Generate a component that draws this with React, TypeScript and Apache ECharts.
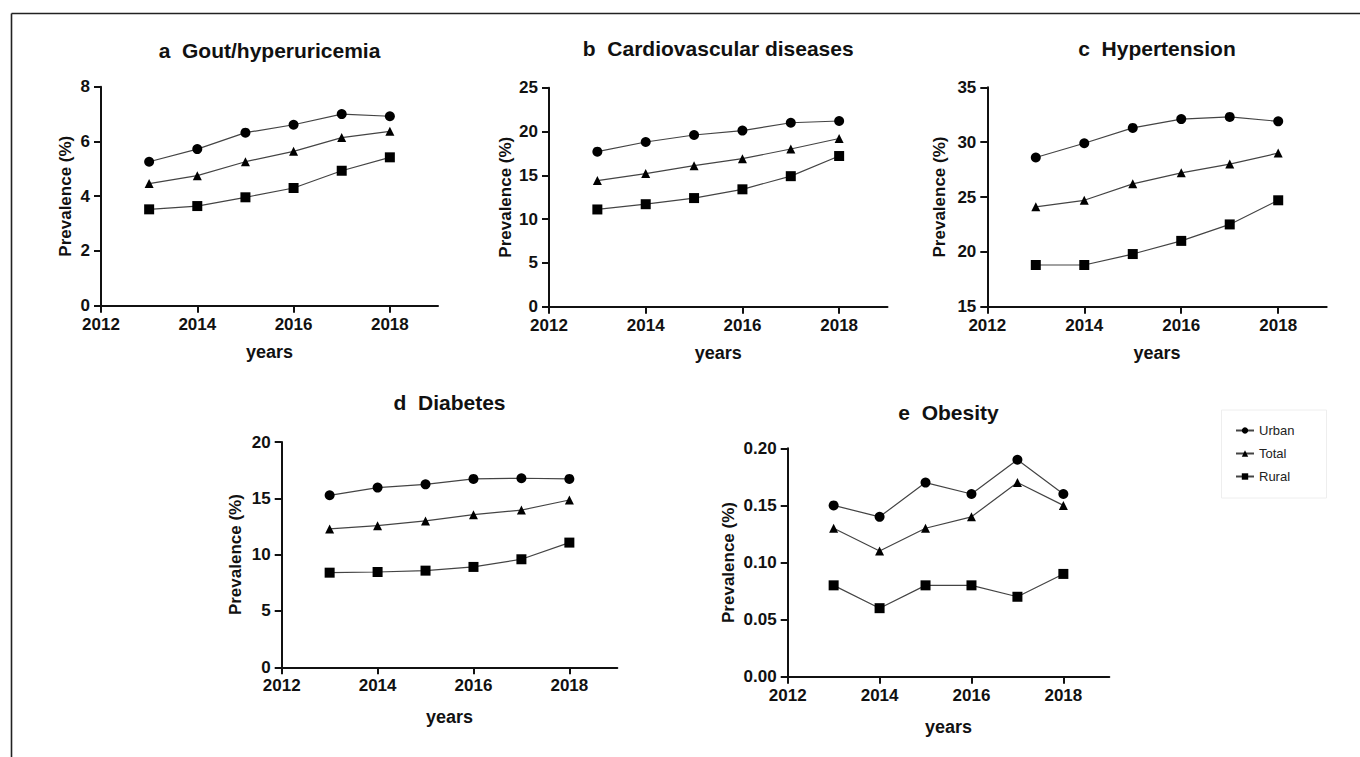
import React, { useEffect, useRef } from "react";
import * as echarts from "echarts";

const YEARS = [2013, 2014, 2015, 2016, 2017, 2018];
const X_TICKS = [2012, 2014, 2016, 2018];
const SERIES_NAMES = ["Urban", "Total", "Rural"];

const goutUrban = [5.26, 5.72, 6.32, 6.61, 7.0, 6.92];
const goutTotal = [4.46, 4.75, 5.26, 5.64, 6.14, 6.37];
const goutRural = [3.52, 3.64, 3.96, 4.3, 4.93, 5.42];

const cvdUrban = [17.7, 18.8, 19.6, 20.1, 21.0, 21.2];
const cvdTotal = [14.4, 15.2, 16.1, 16.9, 18.0, 19.2];
const cvdRural = [11.1, 11.7, 12.4, 13.4, 14.9, 17.2];

const htnUrban = [28.6, 29.9, 31.3, 32.1, 32.3, 31.9];
const htnTotal = [24.1, 24.7, 26.2, 27.2, 28.0, 29.0];
const htnRural = [18.8, 18.8, 19.8, 21.0, 22.5, 24.7];

const dmUrban = [15.27, 15.95, 16.24, 16.72, 16.78, 16.72];
const dmTotal = [12.28, 12.57, 12.99, 13.55, 13.96, 14.85];
const dmRural = [8.4, 8.46, 8.58, 8.91, 9.59, 11.07];

const obUrban = [0.15, 0.14, 0.17, 0.16, 0.19, 0.16];
const obTotal = [0.13, 0.11, 0.13, 0.14, 0.17, 0.15];
const obRural = [0.08, 0.06, 0.08, 0.08, 0.07, 0.09];

const TITLES = ["a  Gout/hyperuricemia", "b  Cardiovascular diseases", "c  Hypertension", "d  Diabetes", "e  Obesity"];
const Y_NAME = "Prevalence (%)";
const X_NAME = "years";
const Y_MIN = [0, 0, 15, 0, 0];
const Y_MAX = [8, 25, 35, 20, 0.2];
const Y_INTERVAL = [2, 5, 5, 5, 0.05];
const Y_DECIMALS = [0, 0, 0, 0, 2];
const PANEL_DATA = [
  [goutUrban, goutTotal, goutRural],
  [cvdUrban, cvdTotal, cvdRural],
  [htnUrban, htnTotal, htnRural],
  [dmUrban, dmTotal, dmRural],
  [obUrban, obTotal, obRural],
];

// layout (pixels)
const GRIDS = [
  { left: 101, top: 86.7, width: 337, height: 219 },
  { left: 549, top: 87.7, width: 338.5, height: 219 },
  { left: 987.3, top: 87.3, width: 339.4, height: 219.4 },
  { left: 281.7, top: 442, width: 335.6, height: 225.3 },
  { left: 787.7, top: 448.3, width: 321.6, height: 228.4 },
];
const TITLE_Y = [52, 50, 50, 404, 414];
const Y_NAME_GAP = [27.5, 35.5, 39, 38, 51];
const X_NAME_GAP = [37, 37.5, 37.5, 40.5, 41];

const FONT = "'Liberation Sans', Arial, Helvetica, sans-serif";
const SYMBOLS = ["circle", "triangle", "rect"];
const SYMBOL_SIZES = [10, 9, 10];

export default function App() {
  const ref = useRef<HTMLDivElement>(null);
  useEffect(() => {
    document.body.style.margin = "0";
    const chart = echarts.init(ref.current!, null, { renderer: "svg" });
    const grid: any[] = [];
    const xAxis: any[] = [];
    const yAxis: any[] = [];
    const series: any[] = [];
    const title: any[] = [];
    GRIDS.forEach((g, i) => {
      grid.push({ left: g.left, top: g.top, width: g.width, height: g.height, containLabel: false });
      title.push({
        text: TITLES[i],
        left: g.left + g.width / 2,
        top: TITLE_Y[i] - 12,
        textAlign: "center",
        textStyle: { fontFamily: FONT, fontSize: 21, fontWeight: "bold", color: "#111" },
        padding: 0,
      });
      xAxis.push({
        type: "value",
        gridIndex: i,
        min: 2012,
        max: 2019,
        interval: 2,
        name: X_NAME,
        nameLocation: "middle",
        nameGap: X_NAME_GAP[i],
        nameTextStyle: { fontFamily: FONT, fontSize: 18, fontWeight: "bold", color: "#111" },
        axisLine: { show: true, onZero: false, lineStyle: { color: "#111", width: 2 } },
        axisTick: { show: true, length: 7, customValues: X_TICKS, lineStyle: { color: "#111", width: 2 } },
        axisLabel: {
          customValues: X_TICKS,
          margin: 10,
          fontFamily: FONT,
          fontSize: 17,
          fontWeight: "bold",
          color: "#111",
          formatter: (v: number) => String(v),
        },
        splitLine: { show: false },
      });
      yAxis.push({
        type: "value",
        gridIndex: i,
        min: Y_MIN[i],
        max: Y_MAX[i],
        interval: Y_INTERVAL[i],
        name: Y_NAME,
        nameLocation: "middle",
        nameGap: Y_NAME_GAP[i],
        nameTextStyle: { fontFamily: FONT, fontSize: 17, fontWeight: "bold", color: "#111" },
        axisLine: { show: true, lineStyle: { color: "#111", width: 2 } },
        axisTick: { show: true, length: 7, lineStyle: { color: "#111", width: 2 } },
        axisLabel: {
          margin: 11,
          fontFamily: FONT,
          fontSize: 17,
          fontWeight: "bold",
          color: "#111",
          formatter: (v: number) => v.toFixed(Y_DECIMALS[i]),
        },
        splitLine: { show: false },
      });
      PANEL_DATA[i].forEach((vals, s) => {
        series.push({
          type: "line",
          name: SERIES_NAMES[s],
          xAxisIndex: i,
          yAxisIndex: i,
          data: YEARS.map((y, k) => [y, vals[k]]),
          symbol: SYMBOLS[s],
          symbolSize: SYMBOL_SIZES[s],
          showSymbol: true,
          lineStyle: { color: "#444", width: 1.2 },
          itemStyle: { color: "#000" },
          z: 3,
        });
      });
    });
    chart.setOption({
      animation: false,
      backgroundColor: "#fff",
      title,
      grid,
      xAxis,
      yAxis,
      series,
      legend: {
        data: SERIES_NAMES,
        orient: "vertical",
        left: 1235,
        top: 424,
        itemWidth: 18,
        itemHeight: 8,
        itemGap: 10,
        padding: 0,
        selectedMode: false,
        textStyle: { fontFamily: FONT, fontSize: 13, color: "#222" },
      },
      graphic: [
        { type: "line", shape: { x1: 11.5, y1: 13.5, x2: 1360, y2: 13.5 }, style: { stroke: "#222", lineWidth: 1.6 } },
        { type: "line", shape: { x1: 11.5, y1: 13.5, x2: 11.5, y2: 757 }, style: { stroke: "#222", lineWidth: 1.6 } },
        {
          type: "rect",
          shape: { x: 1221.5, y: 410, width: 105, height: 88 },
          style: { fill: "none", stroke: "#eeeeee", lineWidth: 1 },
        },
      ],
    });
    return () => chart.dispose();
  }, []);
  return <div ref={ref} style={{ position: "absolute", left: 0, top: 0, width: 1360, height: 757 }} />;
}
